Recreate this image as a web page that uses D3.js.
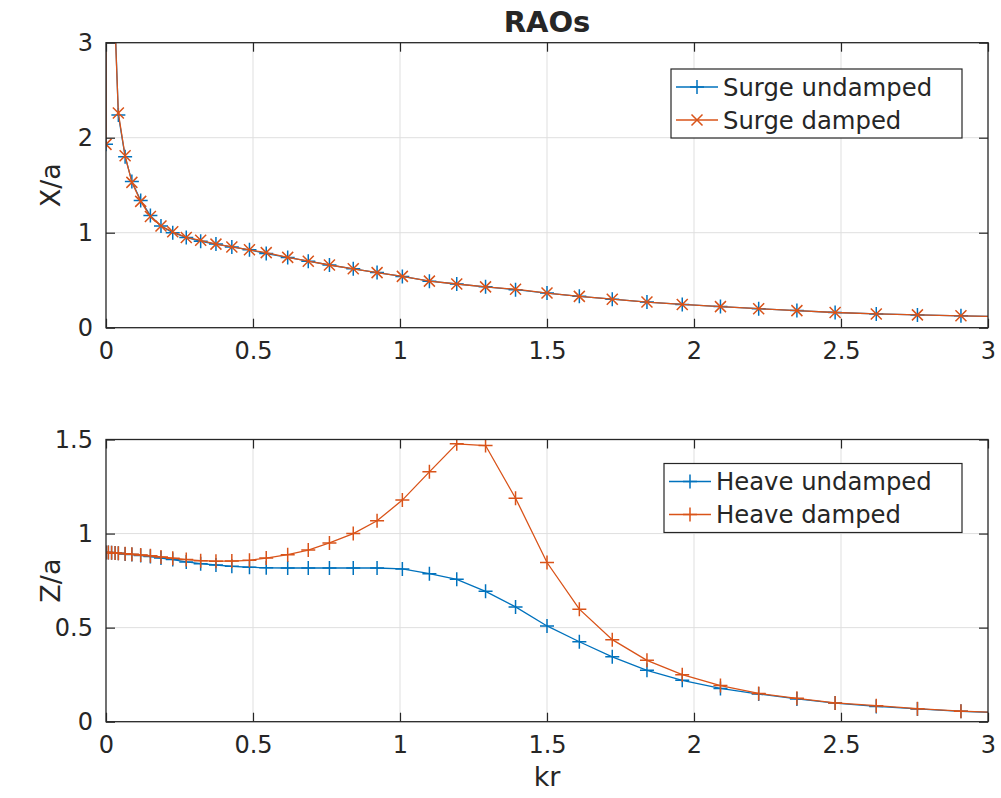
<!DOCTYPE html>
<head>
<style type="text/css">
    body {
      font-family: "DejaVu Sans", sans-serif;
      margin: 0;
      background: #fff;
    }
    text { fill: #262626; }
</style>
</head>
<script src="https://d3js.org/d3.v7.min.js"></script>
<body>
    <svg width="1001" height="798"></svg>
    <script>
        // kr values of the plotted points (same grid for both panels)
        var kr = [0, 0.008, 0.019, 0.031, 0.042, 0.065, 0.088, 0.118, 0.151, 0.187,
                  0.227, 0.273, 0.322, 0.374, 0.428, 0.488, 0.545, 0.618, 0.688, 0.760,
                  0.841, 0.922, 1.008, 1.100, 1.193, 1.291, 1.393, 1.500, 1.610, 1.722,
                  1.840, 1.960, 2.090, 2.220, 2.350, 2.480, 2.620, 2.760, 2.908, 3.060];

        var surgeUndamped = [1.93, 45, 10, 3.2, 2.24, 1.80, 1.54, 1.34, 1.18, 1.07,
                             1.00, 0.95, 0.91, 0.88, 0.85, 0.82, 0.78, 0.74, 0.70, 0.66,
                             0.62, 0.58, 0.54, 0.49, 0.46, 0.43, 0.40, 0.365, 0.33, 0.30,
                             0.27, 0.245, 0.222, 0.20, 0.18, 0.16, 0.145, 0.135, 0.125, 0.115];
        var surgeDamped = [1.93, 40, 9, 3.15, 2.26, 1.81, 1.53, 1.33, 1.17, 1.07,
                           1.01, 0.95, 0.92, 0.88, 0.85, 0.82, 0.79, 0.74, 0.70, 0.66,
                           0.62, 0.58, 0.54, 0.49, 0.46, 0.43, 0.405, 0.365, 0.33, 0.30,
                           0.27, 0.245, 0.222, 0.20, 0.18, 0.16, 0.145, 0.135, 0.125, 0.115];

        var heaveUndamped = [0.90, 0.90, 0.898, 0.897, 0.895, 0.892, 0.889, 0.884, 0.878, 0.870,
                             0.862, 0.849, 0.840, 0.833, 0.826, 0.821, 0.818, 0.817, 0.817, 0.817,
                             0.817, 0.817, 0.812, 0.787, 0.757, 0.693, 0.610, 0.509, 0.425, 0.345,
                             0.273, 0.220, 0.177, 0.147, 0.121, 0.099, 0.081, 0.068, 0.055, 0.047];
        var heaveDamped = [0.90, 0.90, 0.898, 0.897, 0.895, 0.893, 0.890, 0.886, 0.882, 0.876,
                           0.869, 0.862, 0.856, 0.853, 0.854, 0.858, 0.870, 0.888, 0.912, 0.950,
                           1.000, 1.068, 1.178, 1.328, 1.477, 1.468, 1.188, 0.846, 0.598, 0.436,
                           0.326, 0.250, 0.192, 0.150, 0.124, 0.100, 0.085, 0.069, 0.056, 0.047];

        var xTicks = [0, 0.5, 1, 1.5, 2, 2.5, 3];
        var surgeTicks = [0, 1, 2, 3];
        var heaveTicks = [0, 0.5, 1, 1.5];

        var blue = "#0072BD",
            orange = "#D95319",
            axisColor = "#262626";

        var svg = d3.select("svg");

        var plusPath = "M-7,0H7M0,-7V7",
            crossPath = "M-5.5,-5.5L5.5,5.5M-5.5,5.5L5.5,-5.5";

        function panel(id, top, bottom, yMax, yTicks, ylabel, series, legend) {
            var x = d3.scaleLinear().domain([0, 3]).range([106, 988]);
            var y = d3.scaleLinear().domain([0, yMax]).range([bottom, top]);
            var g = svg.append("g");

            g.append("clipPath").attr("id", id)
              .append("rect")
              .attr("x", 106).attr("y", top)
              .attr("width", 882).attr("height", bottom - top);

            // grid
            g.selectAll(".gx").data(xTicks.slice(1, -1)).enter().append("line")
              .attr("x1", x).attr("x2", x).attr("y1", top).attr("y2", bottom)
              .style("stroke", "#dfdfdf").style("stroke-width", 1);
            g.selectAll(".gy").data(yTicks.slice(1, -1)).enter().append("line")
              .attr("y1", y).attr("y2", y).attr("x1", 106).attr("x2", 988)
              .style("stroke", "#dfdfdf").style("stroke-width", 1);

            var plot = g.append("g").attr("clip-path", "url(#" + id + ")");
            var line = d3.line().x(function(d, i) { return x(kr[i]); }).y(function(d) { return y(d); });

            series.forEach(function(s) {
                plot.append("path").datum(s.values)
                  .attr("d", line)
                  .style("fill", "none").style("stroke", s.color).style("stroke-width", 1.3);
                plot.selectAll(null).data(s.values).enter().append("path")
                  .attr("d", s.marker)
                  .attr("transform", function(d, i) { return "translate(" + x(kr[i]) + "," + y(d) + ")"; })
                  .style("fill", "none").style("stroke", s.color).style("stroke-width", 1.5);
            });

            // axes, ticks pointing inward on all four sides
            var ax = g.append("g").attr("transform", "translate(0," + bottom + ")")
              .call(d3.axisBottom(x).tickValues(xTicks).tickSize(-9).tickPadding(14).tickFormat(d3.format("")));
            var axTop = g.append("g").attr("transform", "translate(0," + top + ")")
              .call(d3.axisTop(x).tickValues(xTicks).tickSize(-9).tickFormat(""));
            var ay = g.append("g").attr("transform", "translate(106,0)")
              .call(d3.axisLeft(y).tickValues(yTicks).tickSize(-9).tickPadding(13).tickFormat(d3.format("")));
            var ayR = g.append("g").attr("transform", "translate(988,0)")
              .call(d3.axisRight(y).tickValues(yTicks).tickSize(-9).tickFormat(""));

            [ax, axTop, ay, ayR].forEach(function(a) {
                a.select(".domain").remove();
                a.selectAll("line").style("stroke", axisColor).style("stroke-width", 1.2);
                a.selectAll("text").style("font-family", "DejaVu Sans").style("font-size", "24px").style("fill", axisColor);
            });

            g.append("rect")
              .attr("x", 106).attr("y", top).attr("width", 882).attr("height", bottom - top)
              .style("fill", "none").style("stroke", axisColor).style("stroke-width", 1.3);

            g.append("text")
              .attr("transform", "translate(60," + (top + bottom) / 2 + ")rotate(-90)")
              .attr("text-anchor", "middle")
              .style("font-size", "27px")
              .text(ylabel);

            // legend
            var lg = g.append("g");
            lg.append("rect")
              .attr("x", legend.x).attr("y", legend.y).attr("width", 962 - legend.x).attr("height", 69)
              .style("fill", "#fff").style("stroke", axisColor).style("stroke-width", 1.2);
            series.forEach(function(s, i) {
                var cy = legend.y + 18 + i * 33;
                lg.append("line")
                  .attr("x1", legend.x + 5).attr("x2", legend.x + 47).attr("y1", cy).attr("y2", cy)
                  .style("stroke", s.color).style("stroke-width", 1.3);
                lg.append("path").attr("d", s.marker)
                  .attr("transform", "translate(" + (legend.x + 26) + "," + cy + ")")
                  .style("fill", "none").style("stroke", s.color).style("stroke-width", 1.5);
                lg.append("text")
                  .attr("x", legend.x + 52).attr("y", cy + 8.5)
                  .style("font-size", "24.3px")
                  .text(s.name);
            });
        }

        panel("clipTop", 42.7, 327.7, 3, surgeTicks, "X/a", [
            {name: "Surge undamped", values: surgeUndamped, color: blue, marker: plusPath},
            {name: "Surge damped", values: surgeDamped, color: orange, marker: crossPath}
        ], {x: 671, y: 69});

        panel("clipBottom", 439.5, 721.7, 1.5, heaveTicks, "Z/a", [
            {name: "Heave undamped", values: heaveUndamped, color: blue, marker: plusPath},
            {name: "Heave damped", values: heaveDamped, color: orange, marker: plusPath}
        ], {x: 664, y: 463.5});

        svg.append("text")
          .attr("x", 547).attr("y", 32)
          .attr("text-anchor", "middle")
          .style("font-size", "29px").style("font-weight", "bold")
          .text("RAOs");

        svg.append("text")
          .attr("x", 547).attr("y", 786)
          .attr("text-anchor", "middle")
          .style("font-size", "27px")
          .text("kr");
    </script>
</body>
